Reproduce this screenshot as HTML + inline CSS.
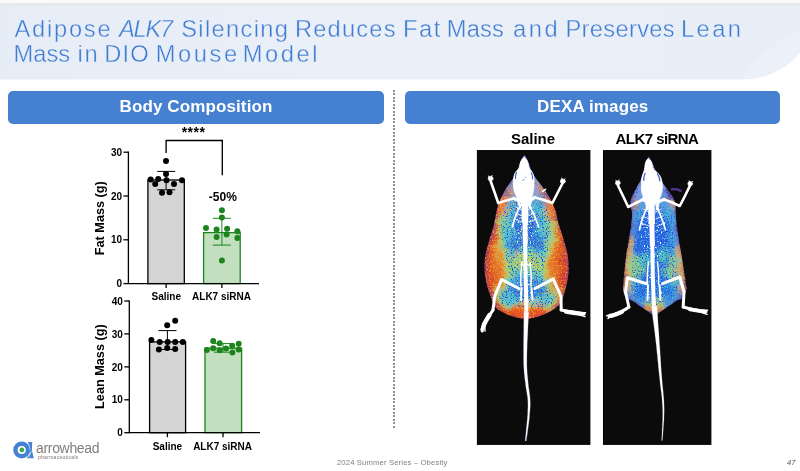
<!DOCTYPE html>
<html lang="en">
<head>
<meta charset="utf-8">
<title>Adipose ALK7 Silencing Reduces Fat Mass and Preserves Lean Mass in DIO Mouse Model</title>
<style>
html,body{margin:0;padding:0;}
body{width:800px;height:471px;position:relative;overflow:hidden;background:#fff;font-family:"Liberation Sans",sans-serif;}
.abs{position:absolute;}
#topstrip{left:0;top:0;width:800px;height:5px;background:linear-gradient(#fafafa 0,#fafafa 40%,#e4e4e4 90%,#e6ebf2 100%);}
#band{left:0;top:5px;width:800px;height:76px;}

.hdr{top:91px;height:32.5px;background:#4680d0;border-radius:5px;color:#fff;font-weight:bold;font-size:17px;text-align:center;line-height:31px;letter-spacing:0.12px;}
#h1{left:8px;width:376px;}
#h2{left:405px;width:375.4px;}
#dots{left:393.3px;top:90px;width:1.5px;height:339px;background:repeating-linear-gradient(#968e8e 0,#968e8e 1.7px,transparent 1.7px,transparent 3.5px);}
.ilab{top:128.8px;font-weight:bold;font-size:15px;color:#000;text-align:center;white-space:nowrap;line-height:20px;}
#foot{left:300px;width:184.5px;top:457.8px;text-align:center;font-size:7.6px;color:#7f7f7f;line-height:10px;letter-spacing:0.18px;white-space:nowrap;}
#pg{left:779.5px;width:16px;top:457.9px;text-align:right;font-size:7.6px;font-style:italic;color:#555;line-height:10px;}
#logotxt{left:36px;top:440px;font-size:14px;color:#837d7b;line-height:16px;letter-spacing:-0.32px;white-space:nowrap;}
#logosub{left:38px;top:454.2px;font-size:5px;color:#7a7472;line-height:6px;letter-spacing:0.28px;white-space:nowrap;}
svg text{font-family:"Liberation Sans",sans-serif;}
</style>
</head>
<body>
<div id="topstrip" class="abs"></div>
<svg id="band" class="abs" width="800" height="76" viewBox="0 5 800 76">
  <defs>
    <linearGradient id="bg1" x1="0" y1="0" x2="1" y2="0">
      <stop offset="0" stop-color="#e7edf7"/><stop offset="0.5" stop-color="#eaeff8"/><stop offset="1" stop-color="#e8eef6"/>
    </linearGradient>
  </defs>
  <path d="M0 5 H800 V52 C 790 65.5 770 79.4 740 79.4 H0 Z" fill="url(#bg1)"/>
  <path d="M800 30 C 770 45 750 62 742 79.4 C 770 79.4 790 65.5 800 52 Z" fill="#ecf0f8"/>
</svg>
<svg id="title" class="abs" style="left:0;top:0" width="800" height="80" viewBox="0 0 800 80"><g fill="#3f7dd3" font-size="23.7" stroke="#e9eef7" stroke-width="0.38"><text y="36.7"><tspan x="14.50" letter-spacing="1.750">Adipose</tspan> <tspan x="119.00" letter-spacing="-1.250" font-style="italic">ALK7</tspan> <tspan x="181.25" letter-spacing="1.312">Silencing</tspan> <tspan x="295.00" letter-spacing="1.167">Reduces</tspan> <tspan x="403.00" letter-spacing="1.500">Fat</tspan> <tspan x="446.75" letter-spacing="0.167">Mass</tspan> <tspan x="512.90" letter-spacing="2.600">and</tspan> <tspan x="565.50" letter-spacing="0.312">Preserves</tspan> <tspan x="681.00" letter-spacing="2.417">Lean</tspan></text>
<text y="61.8"><tspan x="13.50" letter-spacing="0.000">Mass</tspan> <tspan x="77.50" letter-spacing="1.750">in</tspan> <tspan x="104.25" letter-spacing="1.125">DIO</tspan> <tspan x="155.68" letter-spacing="2.600">Mouse</tspan> <tspan x="242.68" letter-spacing="2.600">Model</tspan></text>
</g></svg>

<div id="h1" class="abs hdr">Body Composition</div>
<div id="h2" class="abs hdr">DEXA images</div>
<div id="dots" class="abs"></div>

<div class="abs ilab" style="left:483px;width:100px;">Saline</div>
<div class="abs ilab" style="left:607px;width:100px;letter-spacing:-0.55px;">ALK7 siRNA</div>

<!-- CHARTS -->
<svg id="charts" class="abs" style="left:0;top:0.4px" width="400" height="471" viewBox="0 0 400 471">
<g stroke="#000" stroke-width="1.3" fill="none">
<rect x="147.9" y="180" width="36.4" height="103.6" fill="#d4d4d4"/>
</g>
<rect x="203.6" y="232.6" width="36.6" height="51.0" fill="#c2e0bf" stroke="#1d841d" stroke-width="1.3"/>
<g stroke="#000" stroke-width="1.3" fill="none">
<path d="M128.4 151.4 V283.6 M127.80000000000001 283.6 H259"/>
<path d="M123.4 283.6 H128.4"/>
<path d="M123.4 239.8 H128.4"/>
<path d="M123.4 196.0 H128.4"/>
<path d="M123.4 152.2 H128.4"/>
<path d="M166.1 283.6 V288.1"/>
<path d="M221.9 283.6 V288.1"/>
<path d="M166.1 153 V140.5 H222.3 V175.3" stroke-width="1.35"/>
<path d="M166.1 171.4 V189.8 M157.2 171.4 H175.2 M157.2 189.8 H175.2" stroke-width="1"/>
</g>
<path d="M221.9 218.3 V245.1 M212.8 218.3 H230.9 M212.8 245.1 H230.9" stroke="#1d841d" stroke-width="1" fill="none"/>
<circle cx="166" cy="160.9" r="3" fill="#000"/><circle cx="166" cy="173.9" r="3" fill="#000"/><circle cx="150.7" cy="179.6" r="3" fill="#000"/><circle cx="158.2" cy="179.1" r="3" fill="#000"/><circle cx="166.5" cy="180.2" r="3" fill="#000"/><circle cx="182" cy="180.2" r="3" fill="#000"/><circle cx="155.2" cy="183.9" r="3" fill="#000"/><circle cx="174" cy="183.9" r="3" fill="#000"/><circle cx="162" cy="192.7" r="3" fill="#000"/><circle cx="169.5" cy="192.2" r="3" fill="#000"/>
<circle cx="221.9" cy="210.3" r="3" fill="#1d841d"/><circle cx="221.9" cy="217.6" r="3" fill="#1d841d"/><circle cx="206" cy="228" r="3" fill="#1d841d"/><circle cx="216.6" cy="229.5" r="3" fill="#1d841d"/><circle cx="227.1" cy="228.8" r="3" fill="#1d841d"/><circle cx="237.4" cy="231.3" r="3" fill="#1d841d"/><circle cx="216.6" cy="237" r="3" fill="#1d841d"/><circle cx="226.6" cy="234.6" r="3" fill="#1d841d"/><circle cx="237.4" cy="238" r="3" fill="#1d841d"/><circle cx="221.9" cy="260.6" r="3" fill="#1d841d"/>
<g font-weight="bold" font-size="10" fill="#000" text-anchor="end">
<text x="122.0" y="287.2">0</text>
<text x="122.0" y="243.4">10</text>
<text x="122.0" y="199.6">20</text>
<text x="122.0" y="155.8">30</text>
</g>
<g font-weight="bold" font-size="10" fill="#000" text-anchor="middle">
<text x="166.3" y="300.3">Saline</text><text x="221.5" y="300.3">ALK7 siRNA</text>
<text x="193.5" y="136.7" font-size="14" letter-spacing="0.45">****</text>
<text x="222.8" y="200.7" font-size="12">-50%</text>
<text transform="translate(104.4 218.2) rotate(-90)" font-size="12.7">Fat Mass (g)</text>
</g>
<rect x="149.6" y="341.9" width="36" height="90.8" fill="#d4d4d4" stroke="#000" stroke-width="1.3"/>
<rect x="205" y="348.2" width="36.6" height="84.5" fill="#c2e0bf" stroke="#1d841d" stroke-width="1.3"/>
<g stroke="#000" stroke-width="1.3" fill="none">
<path d="M129.3 300.4 V432.7 M128.70000000000002 432.7 H260"/>
<path d="M124.30000000000001 432.7 H129.3"/>
<path d="M124.30000000000001 399.8 H129.3"/>
<path d="M124.30000000000001 366.9 H129.3"/>
<path d="M124.30000000000001 333.9 H129.3"/>
<path d="M124.30000000000001 301.0 H129.3"/>
<path d="M167.4 432.7 V437.2"/>
<path d="M223 432.7 V437.2"/>
<path d="M167.4 330.6 V349.5 M158.4 330.6 H176.5 M158.4 349.5 H176.5" stroke-width="1"/>
</g>
<path d="M223 343.6 V352.2 M214 343.6 H232 M214 352.2 H232" stroke="#1d841d" stroke-width="1" fill="none"/>
<circle cx="175.2" cy="320.8" r="3" fill="#000"/><circle cx="167.2" cy="325.3" r="3" fill="#000"/><circle cx="151.4" cy="340.1" r="3" fill="#000"/><circle cx="159.7" cy="342.1" r="3" fill="#000"/><circle cx="167.7" cy="342.1" r="3" fill="#000"/><circle cx="175.2" cy="342.1" r="3" fill="#000"/><circle cx="182.8" cy="342.1" r="3" fill="#000"/><circle cx="158.9" cy="349.6" r="3" fill="#000"/><circle cx="167.2" cy="348.1" r="3" fill="#000"/><circle cx="175.2" cy="348.9" r="3" fill="#000"/>
<circle cx="213.2" cy="340.9" r="3" fill="#1d841d"/><circle cx="219.6" cy="343.2" r="3" fill="#1d841d"/><circle cx="232.2" cy="345.8" r="3" fill="#1d841d"/><circle cx="238.7" cy="343.8" r="3" fill="#1d841d"/><circle cx="206.9" cy="350" r="3" fill="#1d841d"/><circle cx="213.2" cy="348.2" r="3" fill="#1d841d"/><circle cx="219.6" cy="350.2" r="3" fill="#1d841d"/><circle cx="226" cy="348.5" r="3" fill="#1d841d"/><circle cx="232.4" cy="352.6" r="3" fill="#1d841d"/><circle cx="238.7" cy="349.6" r="3" fill="#1d841d"/>
<g font-weight="bold" font-size="10" fill="#000" text-anchor="end">
<text x="122.9" y="436.3">0</text>
<text x="122.9" y="403.4">10</text>
<text x="122.9" y="370.5">20</text>
<text x="122.9" y="337.5">30</text>
<text x="122.9" y="304.6">40</text>
</g>
<g font-weight="bold" font-size="10" fill="#000" text-anchor="middle">
<text x="167.4" y="449.8">Saline</text><text x="222.6" y="449.8">ALK7 siRNA</text>
<text transform="translate(104.4 366.6) rotate(-90)" font-size="12.7">Lean Mass (g)</text>
</g>
</svg>

<!-- DEXA -->
<svg id="dexa" class="abs" style="left:400px;top:0" width="400" height="471" viewBox="400 0 400 471">
<defs>
<filter id="blur4" x="-20%" y="-20%" width="140%" height="140%"><feGaussianBlur stdDeviation="2.6"/></filter>
<filter id="blur2" x="-20%" y="-20%" width="140%" height="140%"><feGaussianBlur stdDeviation="2.2"/></filter>
<filter id="grain" x="-5%" y="-5%" width="110%" height="110%">
  <feTurbulence type="fractalNoise" baseFrequency="0.09" numOctaves="2" seed="3" result="n0"/>
  <feDisplacementMap in="SourceGraphic" in2="n0" scale="14" xChannelSelector="R" yChannelSelector="G" result="d0"/>
  <feTurbulence type="fractalNoise" baseFrequency="0.6" numOctaves="2" seed="7" result="n"/>
  <feDisplacementMap in="d0" in2="n" scale="10" xChannelSelector="R" yChannelSelector="G"/>
</filter>
<filter id="grainF" x="-5%" y="-5%" width="110%" height="110%">
  <feGaussianBlur stdDeviation="1.2" result="b"/>
  <feTurbulence type="fractalNoise" baseFrequency="0.6" numOctaves="2" seed="9" result="n"/>
  <feDisplacementMap in="b" in2="n" scale="6" xChannelSelector="R" yChannelSelector="G"/>
</filter>
<filter id="speck" x="0" y="0" width="100%" height="100%" color-interpolation-filters="sRGB">
  <feTurbulence type="fractalNoise" baseFrequency="0.7" numOctaves="1" seed="11" result="t"/>
  <feColorMatrix in="t" type="matrix" values="0 0 0 0 1  0 0 0 0 1  0 0 0 0 1  0 0 0 9 -5.5" result="m"/>
  <feComposite in="m" in2="SourceAlpha" operator="in"/>
</filter>
<filter id="speckC" x="0" y="0" width="100%" height="100%" color-interpolation-filters="sRGB">
  <feTurbulence type="fractalNoise" baseFrequency="0.8" numOctaves="1" seed="23" result="t"/>
  <feColorMatrix in="t" type="matrix" values="0 0 0 0 0.25  0 0 0 0 0.78  0 0 0 0 0.85  0 0 0 6 -3.4" result="m"/>
  <feComposite in="m" in2="SourceAlpha" operator="in"/>
</filter>
<filter id="speckY" x="0" y="0" width="100%" height="100%" color-interpolation-filters="sRGB">
  <feTurbulence type="fractalNoise" baseFrequency="0.75" numOctaves="1" seed="41" result="t"/>
  <feColorMatrix in="t" type="matrix" values="0 0 0 0 0.95  0 0 0 0 0.72  0 0 0 0 0.2  0 0 0 5 -2.75" result="m"/>
  <feComposite in="m" in2="SourceAlpha" operator="in"/>
</filter>
<filter id="speckB" x="0" y="0" width="100%" height="100%" color-interpolation-filters="sRGB">
  <feTurbulence type="fractalNoise" baseFrequency="0.8" numOctaves="1" seed="5" result="t"/>
  <feColorMatrix in="t" type="matrix" values="0 0 0 0 0.12  0 0 0 0 0.3  0 0 0 0 0.85  0 0 0 7 -3.9" result="m"/>
  <feComposite in="m" in2="SourceAlpha" operator="in"/>
</filter>
<filter id="bone" x="-10%" y="-10%" width="120%" height="120%">
  <feGaussianBlur stdDeviation="0.35"/>
</filter>
<radialGradient id="spk"><stop offset="0" stop-color="#000" stop-opacity="1"/><stop offset="0.6" stop-color="#000" stop-opacity="0.8"/><stop offset="1" stop-color="#000" stop-opacity="0"/></radialGradient>
</defs>
<rect x="477.4" y="150.6" width="112.5" height="293.75" fill="#0b0b0b" stroke="#000" stroke-width="1"/>
<clipPath id="cbS"><path d="M524.4 155 C527 158 529.5 165 531.5 171 C534 177 539 182 544 189 C549 196 553 203 555.5 211 C557 217 558 222 559.5 227 C561.5 233 563.5 239 565.2 245 C567.4 252 568.8 259 568.8 266 C568.8 276 566.5 287 563.5 296 C562 302 559.5 305 556 308 C548 313 537 318.8 525.5 318.8 C514 318.8 503 313 496 308 C493.5 305 492 301 490.4 296.4 C487 287 484.4 276 484.4 266 C484.4 259 485.6 252 487.8 245 C489.5 239 491.5 233 493.4 227 C494.6 222 495.5 217 496.5 211 C498 203 502 195 506.5 188 C510.5 182 515 177 517.5 171 C519.5 165 521.5 158 524.4 155 Z"/></clipPath>
<g clip-path="url(#cbS)">
<g filter="url(#grainF)"><path d="M524.4 155 C527 158 529.5 165 531.5 171 C534 177 539 182 544 189 C549 196 553 203 555.5 211 C557 217 558 222 559.5 227 C561.5 233 563.5 239 565.2 245 C567.4 252 568.8 259 568.8 266 C568.8 276 566.5 287 563.5 296 C562 302 559.5 305 556 308 C548 313 537 318.8 525.5 318.8 C514 318.8 503 313 496 308 C493.5 305 492 301 490.4 296.4 C487 287 484.4 276 484.4 266 C484.4 259 485.6 252 487.8 245 C489.5 239 491.5 233 493.4 227 C494.6 222 495.5 217 496.5 211 C498 203 502 195 506.5 188 C510.5 182 515 177 517.5 171 C519.5 165 521.5 158 524.4 155 Z" fill="#d84a20" stroke="#6a2a98" stroke-width="1.5"/><path d="M524.4 150 L505 180 L498 197 L552 197 L545 180 Z" fill="#5a58c0" stroke="#4a2a90" stroke-width="1"/><path d="M524.4 162 L512 184 L508 199 L542 199 L538 184 Z" fill="#9ab0ec"/></g>
<g filter="url(#grain)"><g filter="url(#blur4)">
<path d="M524.4 155 C527 158 529.5 165 531.5 171 C534 177 539 182 544 189 C549 196 553 203 555.5 211 C557 217 558 222 559.5 227 C561.5 233 563.5 239 565.2 245 C567.4 252 568.8 259 568.8 266 C568.8 276 566.5 287 563.5 296 C562 302 559.5 305 556 308 C548 313 537 318.8 525.5 318.8 C514 318.8 503 313 496 308 C493.5 305 492 301 490.4 296.4 C487 287 484.4 276 484.4 266 C484.4 259 485.6 252 487.8 245 C489.5 239 491.5 233 493.4 227 C494.6 222 495.5 217 496.5 211 C498 203 502 195 506.5 188 C510.5 182 515 177 517.5 171 C519.5 165 521.5 158 524.4 155 Z" fill="#d8441e" stroke="#5a2a98" stroke-width="1.6"/>
<ellipse cx="526" cy="262" rx="34" ry="56" fill="#e4702a"/>
<ellipse cx="526" cy="222" rx="29" ry="26" fill="#e89a3c"/>
<path d="M505 203 C516 200 534 200 545 203 C549 210 551 220 551 230 C550.5 240 548 250 545.5 260 C543.5 268 542 274 543 279 C546 284 552 290 556 297 C555 302 551 305 547 306 C535 308 517 308 506 306 C502 305 499 302 499 297 C502 290 507 284 509.5 279 C510 274 508.5 268 506.5 260 C504 250 501.5 240 501 230 C501 220 502 210 505 203 Z" fill="#d8d040" stroke="#d8d040" stroke-width="8" stroke-linejoin="round"/>
<path d="M505 203 C516 200 534 200 545 203 C549 210 551 220 551 230 C550.5 240 548 250 545.5 260 C543.5 268 542 274 543 279 C546 284 552 290 556 297 C555 302 551 305 547 306 C535 308 517 308 506 306 C502 305 499 302 499 297 C502 290 507 284 509.5 279 C510 274 508.5 268 506.5 260 C504 250 501.5 240 501 230 C501 220 502 210 505 203 Z" fill="#7cd498" stroke="#7cd498" stroke-width="3" stroke-linejoin="round"/>
<path d="M505 203 C516 200 534 200 545 203 C549 210 551 220 551 230 C550.5 240 548 250 545.5 260 C543.5 268 542 274 543 279 C546 284 552 290 556 297 C555 302 551 305 547 306 C535 308 517 308 506 306 C502 305 499 302 499 297 C502 290 507 284 509.5 279 C510 274 508.5 268 506.5 260 C504 250 501.5 240 501 230 C501 220 502 210 505 203 Z" fill="#4cc6dc" transform="translate(526 255) scale(0.86 0.95) translate(-526 -255)"/>
<ellipse cx="525" cy="226" rx="11.5" ry="21" fill="#2a6ee4"/>
<ellipse cx="514" cy="246" rx="6" ry="10" fill="#2a74e4"/>
<ellipse cx="537.5" cy="243" rx="6" ry="10" fill="#2a74e4"/>
<ellipse cx="526" cy="266" rx="17" ry="14" fill="#9cd870"/>
<ellipse cx="519" cy="258" rx="6" ry="6" fill="#d4d850"/>
<ellipse cx="536" cy="262" rx="6" ry="5" fill="#c8d858"/>
<ellipse cx="532" cy="274" rx="6" ry="5" fill="#58ccc0"/>
<ellipse cx="517" cy="272" rx="5" ry="5" fill="#58c4d0"/>
<ellipse cx="526.5" cy="291" rx="22" ry="8" fill="#2e82e0"/>
<ellipse cx="526.5" cy="282" rx="9" ry="8" fill="#3a90e4"/>
<ellipse cx="526" cy="312" rx="28" ry="6.5" fill="#e8501c"/>
<ellipse cx="526" cy="304.5" rx="12" ry="3" fill="#e8c848"/>
<path d="M524.4 148 L511 174 L500 193 L506 199 L544 199 L550 193 L538 174 Z" fill="#3a3498"/>
<ellipse cx="524" cy="190" rx="15" ry="20" fill="#7f9ee8"/>
<ellipse cx="524" cy="200" rx="22" ry="7" fill="#5a9ae0"/>
<ellipse cx="524" cy="165" rx="5.5" ry="9" fill="#8a68b8"/>
<ellipse cx="502" cy="207" rx="6" ry="9" fill="#ee7c30"/>
<ellipse cx="550" cy="206" rx="6.5" ry="10" fill="#ee7c30"/>
<ellipse cx="509.5" cy="192" rx="3" ry="4.5" fill="#e09858"/>
<ellipse cx="541" cy="190" rx="3.5" ry="5" fill="#e09858"/>
</g></g>
<path d="M524.4 155 C527 158 529.5 165 531.5 171 C534 177 539 182 544 189 C549 196 553 203 555.5 211 C557 217 558 222 559.5 227 C561.5 233 563.5 239 565.2 245 C567.4 252 568.8 259 568.8 266 C568.8 276 566.5 287 563.5 296 C562 302 559.5 305 556 308 C548 313 537 318.8 525.5 318.8 C514 318.8 503 313 496 308 C493.5 305 492 301 490.4 296.4 C487 287 484.4 276 484.4 266 C484.4 259 485.6 252 487.8 245 C489.5 239 491.5 233 493.4 227 C494.6 222 495.5 217 496.5 211 C498 203 502 195 506.5 188 C510.5 182 515 177 517.5 171 C519.5 165 521.5 158 524.4 155 Z" fill="#fff" filter="url(#speckY)"/>
<path d="M505 203 C516 200 534 200 545 203 C549 210 551 220 551 230 C550.5 240 548 250 545.5 260 C543.5 268 542 274 543 279 C546 284 552 290 556 297 C555 302 551 305 547 306 C535 308 517 308 506 306 C502 305 499 302 499 297 C502 290 507 284 509.5 279 C510 274 508.5 268 506.5 260 C504 250 501.5 240 501 230 C501 220 502 210 505 203 Z" fill="#fff" filter="url(#speckC)"/>
<path d="M505 203 C516 200 534 200 545 203 C549 210 551 220 551 230 C550.5 240 548 250 545.5 260 C543.5 268 542 274 543 279 C546 284 552 290 556 297 C555 302 551 305 547 306 C535 308 517 308 506 306 C502 305 499 302 499 297 C502 290 507 284 509.5 279 C510 274 508.5 268 506.5 260 C504 250 501.5 240 501 230 C501 220 502 210 505 203 Z" fill="#fff" filter="url(#speckB)"/>
<ellipse cx="525" cy="226" rx="12" ry="24" fill="#fff" filter="url(#speck)"/>
<ellipse cx="526" cy="288" rx="9" ry="16" fill="#fff" filter="url(#speck)"/>
</g>
<g fill="none" stroke="#fff" stroke-linecap="round" stroke-linejoin="round" filter="url(#bone)">
<path d="M524.3 157.3 C526.4 158.2 528.3 162 528.8 167 C529.4 169 531 170.4 532.4 172.5 C534 175.5 534.3 180 534 185 C533.8 191 532.8 196 530 200.5 L519 200.5 C515.8 196 513.6 191 513.4 185 C513.2 180 513.6 175.5 515.4 172.5 C517 170.4 518.8 169 519.6 167 C520 162 522 158.2 524.3 157.3 Z" fill="#fff" stroke-width="0.8"/>
<path d="M516.6 172.6 C515.6 174.5 515.3 176.5 515.4 178.5 M531.4 172.8 C532.3 174.5 532.6 176.5 532.5 178.8" stroke="#3458d8" stroke-width="1.1"/>
<path d="M523 180.5 l1.2 -1.4 M525.5 177 l0.6 0.6" stroke="#4a6ae0" stroke-width="0.8"/>
<path d="M524.6 196 C524.8 220 525.2 250 525.6 275 C526 290 526.5 305 526.3 316" stroke-width="4"/>
<path d="M524.7 199 L525 222" stroke-width="6.4" stroke-linecap="butt"/>
<path d="M525 222 L525.3 244" stroke-width="5" stroke-linecap="butt"/>
<path d="M490.6 181 C493 188 496 196 498.2 203 C503 201.5 508 200 514 198.5" stroke-width="2.6"/>
<path d="M562.4 183.5 C559 190 555.5 197 552.4 203 C547 201 541 199 535 197.5" stroke-width="2.6"/>
<ellipse cx="490.6" cy="178.6" rx="2.5" ry="2.3" fill="#fff" stroke-width="0.6"/><path d="M489 176.8 l-0.5 -0.9 M491.6 176.4 l0.4 -0.9" stroke-width="1"/>
<ellipse cx="562.8" cy="181.2" rx="2.5" ry="2.3" fill="#fff" stroke-width="0.6"/><path d="M562 179.2 l-0.3 -1 M564.4 179.6 l0.6 -0.8" stroke-width="1"/>
<path d="M514 198.5 C518 200 521 201.5 524.6 202 C528 201.5 531 199.5 535 197.5" stroke-width="3.4"/>
<path d="M518 200 L520 207 M531 199.5 L529.5 207" stroke-width="2.4"/>
<path d="M542.5 191.5 l3 -2.2" stroke-width="1.6"/>
<path d="M522 203 C518 210 514 218 512.5 227 M528 203 C532 210 536 218 538.5 227" stroke-width="1.7"/>
<path d="M516 207 l6 3 M533 207 l-6 3 M515 213 l7 3 M535 213 l-7 3 M514 219 l8 3 M537 219 l-8 3" stroke-width="1" opacity="0.8"/>
<path d="M522 262 C521 270 520.5 278 521 286 M530 262 C531 270 531.5 278 531 286 M521 265 h10" stroke-width="1.5"/>
<path d="M521.5 288 L521 300 M531.5 288 L532.5 300" stroke-width="2"/>
<path d="M519 288.5 L501.5 279.5 L494.7 296.5 L493 310" stroke-width="3"/>
<path d="M535 288.5 L553.3 278.8 L561 296.5 L561.2 310" stroke-width="3"/>
<path d="M493 310 C490 315 486 320 483.5 324 L482.2 331" stroke-width="3"/><path d="M489.5 315 C487 319 485 322 483.6 326" stroke-width="4.4"/>
<path d="M483.5 324 l-2.6 5.5 M484.6 324.5 l0.4 6.5" stroke-width="1.5"/>
<path d="M561.2 310 C567 311.5 575 312.5 584 314" stroke-width="3.2"/><path d="M566 311.6 C571 312.4 576 313 581 313.8" stroke-width="4.4"/>
<path d="M580 312.5 l5.5 0.2 M580 315 l5 1.6" stroke-width="1.5"/>
</g>
<path d="M523.8 311.9 L523.8 313.3 L523.8 315.1 L523.8 317.3 L523.8 319.7 L523.8 322.2 L523.7 324.9 L523.7 327.5 L523.7 329.9 L523.7 332.4 L523.6 334.8 L523.6 337.4 L523.6 339.9 L523.5 342.5 L523.5 345.1 L523.5 347.6 L523.5 350.0 L523.5 352.3 L523.5 354.6 L523.5 356.9 L523.5 359.2 L523.6 361.4 L523.6 363.6 L523.7 365.9 L523.8 368.1 L524.0 370.3 L524.1 372.5 L524.4 374.7 L524.6 376.8 L524.8 379.0 L525.1 381.1 L525.4 383.1 L525.6 385.2 L525.9 387.2 L526.2 389.1 L526.5 391.0 L526.8 392.8 L527.1 394.7 L527.4 396.5 L527.6 398.3 L527.8 400.1 L527.8 401.9 L527.9 403.8 L527.9 405.6 L527.9 407.5 L527.8 409.3 L527.7 411.2 L527.7 413.1 L527.6 414.9 L527.4 416.8 L527.3 418.7 L527.1 420.7 L526.9 422.6 L526.7 424.6 L526.5 426.4 L526.3 428.2 L526.2 429.9 L526.0 431.5 L525.9 433.2 L525.7 434.8 L525.6 436.4 L525.4 437.8 L525.3 439.0 L525.2 440.1 L525.2 440.9 L526.2 441.1 L526.4 440.2 L526.5 439.2 L526.7 437.9 L526.9 436.5 L527.2 435.0 L527.4 433.4 L527.6 431.7 L527.8 430.1 L528.1 428.4 L528.3 426.6 L528.6 424.8 L528.8 422.9 L529.0 420.9 L529.3 418.9 L529.5 417.0 L529.6 415.1 L529.8 413.2 L529.9 411.3 L530.1 409.4 L530.2 407.5 L530.3 405.6 L530.3 403.7 L530.3 401.8 L530.2 399.9 L530.1 398.0 L529.9 396.1 L529.7 394.3 L529.4 392.4 L529.2 390.6 L528.9 388.7 L528.6 386.8 L528.4 384.8 L528.2 382.8 L528.0 380.8 L527.8 378.7 L527.6 376.5 L527.4 374.4 L527.2 372.2 L527.1 370.1 L527.0 367.9 L526.9 365.8 L526.9 363.6 L526.9 361.4 L526.9 359.2 L526.9 357.0 L527.0 354.7 L527.0 352.4 L527.1 350.0 L527.2 347.6 L527.2 345.1 L527.3 342.6 L527.4 340.1 L527.6 337.5 L527.7 335.0 L527.8 332.5 L527.9 330.1 L528.0 327.6 L528.1 325.0 L528.3 322.4 L528.4 319.8 L528.5 317.4 L528.6 315.3 L528.7 313.4 L528.8 312.1 Z" fill="#fff" stroke="#9a7ac8" stroke-width="0.25" filter="url(#bone)"/>
<rect x="603.5" y="150.6" width="107.4" height="293.75" fill="#0b0b0b" stroke="#000" stroke-width="1"/>
<clipPath id="cbA"><path d="M648.6 156.5 C651.5 160 654 167 656.5 173 C659.5 179 664 185 668 190.5 C671 194.5 674.5 198.5 675.3 204 C675.8 207 675.6 210 675.6 213 C676 219 676.8 226 677.6 232 C678.6 240 680.4 248 681.6 256 C683 265 685.2 278 686.6 288 C686.4 293 684 297.5 680 299.5 L676.4 300.8 C669 306 661 311.5 654.4 316 C648 311.5 640 306 632.3 300.8 L629 299.5 C625 297.5 623 293 623 288 C623.8 278 625 265 626.2 256 C627 248 628.6 240 630 232 C631 226 632 219 632.3 213 C631 208 630 204 630.5 200 C633 193 637 187 640.5 181 C643 175 645.5 163 648.6 156.5 Z"/></clipPath>
<g clip-path="url(#cbA)">
<g filter="url(#grainF)"><path d="M648.6 156.5 C651.5 160 654 167 656.5 173 C659.5 179 664 185 668 190.5 C671 194.5 674.5 198.5 675.3 204 C675.8 207 675.6 210 675.6 213 C676 219 676.8 226 677.6 232 C678.6 240 680.4 248 681.6 256 C683 265 685.2 278 686.6 288 C686.4 293 684 297.5 680 299.5 L676.4 300.8 C669 306 661 311.5 654.4 316 C648 311.5 640 306 632.3 300.8 L629 299.5 C625 297.5 623 293 623 288 C623.8 278 625 265 626.2 256 C627 248 628.6 240 630 232 C631 226 632 219 632.3 213 C631 208 630 204 630.5 200 C633 193 637 187 640.5 181 C643 175 645.5 163 648.6 156.5 Z" fill="#4a7cdc" stroke="#5a2a98" stroke-width="1.4"/><path d="M648.6 162 L638 184 L634 200 L672 200 L666 184 Z" fill="#9ab0ec"/></g>
<g filter="url(#grain)"><g filter="url(#blur2)">
<path d="M648.6 156.5 C651.5 160 654 167 656.5 173 C659.5 179 664 185 668 190.5 C671 194.5 674.5 198.5 675.3 204 C675.8 207 675.6 210 675.6 213 C676 219 676.8 226 677.6 232 C678.6 240 680.4 248 681.6 256 C683 265 685.2 278 686.6 288 C686.4 293 684 297.5 680 299.5 L676.4 300.8 C669 306 661 311.5 654.4 316 C648 311.5 640 306 632.3 300.8 L629 299.5 C625 297.5 623 293 623 288 C623.8 278 625 265 626.2 256 C627 248 628.6 240 630 232 C631 226 632 219 632.3 213 C631 208 630 204 630.5 200 C633 193 637 187 640.5 181 C643 175 645.5 163 648.6 156.5 Z" fill="#5a8ee0" stroke="#4a2a90" stroke-width="1.4"/>
<path d="M629.5 236 C627 255 625 275 625 292" stroke="#e4702c" stroke-width="4.5" fill="none"/>
<path d="M679.5 246 C682 262 684.5 278 685 292" stroke="#e4702c" stroke-width="4" fill="none"/>
<path d="M632 238 C630 256 628.5 275 628.5 292" stroke="#d8d050" stroke-width="2.5" fill="none"/>
<path d="M676.5 248 C679 262 681 278 681.5 292" stroke="#d8d050" stroke-width="2.5" fill="none"/>
<path d="M637 207 C646 204 660 204 671 207 L674 245 L679 285 L675 298 L654 307 L633 298 L630.5 285 L634 245 Z" fill="#4cb4dc"/>
<ellipse cx="653" cy="246" rx="18" ry="46" fill="#2a66e0"/>
<ellipse cx="653" cy="292" rx="22" ry="9" fill="#2e7ade"/>
<ellipse cx="636.5" cy="268" rx="5" ry="13" fill="#8cd488"/>
<ellipse cx="671.5" cy="270" rx="5" ry="12" fill="#8cd488"/>
<ellipse cx="662.5" cy="254" rx="5" ry="7" fill="#5cccb8"/>
<ellipse cx="644" cy="260" rx="4.5" ry="7" fill="#5cccb8"/>
<ellipse cx="654" cy="309" rx="10" ry="5" fill="#e08838"/>
<ellipse cx="654" cy="302.5" rx="9" ry="3" fill="#a0d470"/>
<path d="M648.6 149 L637 176 L629 194 L634 200 L672 200 L676 194 L662 176 Z" fill="#3a3498"/>
<ellipse cx="651" cy="191" rx="14" ry="21" fill="#7f9ee8"/>
<ellipse cx="652" cy="202" rx="19" ry="6" fill="#5a9ae0"/>
<ellipse cx="649" cy="167" rx="5.5" ry="9" fill="#8a68b8"/>
<ellipse cx="635" cy="204" rx="3.5" ry="6" fill="#c89060"/>
<ellipse cx="671.5" cy="203" rx="3.5" ry="6" fill="#c89060"/>
</g></g>
<path d="M637 207 C646 204 660 204 671 207 L674 245 L679 285 L675 298 L654 307 L633 298 L630.5 285 L634 245 Z" fill="#fff" filter="url(#speckC)"/>
<path d="M630 235 L626 292 L634 300 L640 260 Z M678 240 L684 292 L676 300 L668 262 Z" fill="#fff" filter="url(#speckY)"/>
<path d="M637 207 C646 204 660 204 671 207 L674 245 L679 285 L675 298 L654 307 L633 298 L630.5 285 L634 245 Z" fill="#fff" filter="url(#speckB)"/>
<ellipse cx="652.5" cy="232" rx="13" ry="30" fill="#fff" filter="url(#speck)"/>
<ellipse cx="653.5" cy="288" rx="9" ry="16" fill="#fff" filter="url(#speck)"/>
</g>
<path d="M671 189.5 C675 188.5 679 189.5 681.5 191.5" stroke="#5a3aa0" stroke-width="2.6" fill="none" opacity="0.85" filter="url(#bone)"/>
<g fill="none" stroke="#fff" stroke-linecap="round" stroke-linejoin="round" filter="url(#bone)">
<path d="M648.4 158.5 C650.6 159.4 652.3 163 652.8 168 C653.6 170 656.4 171.5 658.6 174 C661.4 177 662.4 182 662.4 187 C662.2 193 660.5 198 657 202.5 L646 202.5 C643 198 641.4 193 641.3 187 C641.3 182 641.6 177 643 174 C644 171.5 644.6 170 644.8 168 C645 163 646.2 159.4 648.4 158.5 Z" fill="#fff" stroke-width="0.8"/>
<path d="M645 173.4 C644 175.5 643.6 178 643.8 180.5 M657.4 173.8 C658.8 175.5 659.6 178 659.8 180.8" stroke="#3458d8" stroke-width="1.2"/>
<path d="M651 198 C651.8 222 652.5 250 652.8 275 C653 290 653.8 300 654.3 310" stroke-width="4"/>
<path d="M651.2 200 L651.8 224" stroke-width="6.4" stroke-linecap="butt"/>
<path d="M651.8 224 L652.4 246" stroke-width="5" stroke-linecap="butt"/>
<path d="M618 185.5 C621 192 625 200 628.2 207 C633 204.5 638 202 643 199.5" stroke-width="2.6"/>
<path d="M689.8 186 C686.5 193 683 200 679.8 206 C675 203.5 670 201.5 664 199.5" stroke-width="2.6"/>
<ellipse cx="617.8" cy="183" rx="2.4" ry="2.2" fill="#fff" stroke-width="0.6"/><path d="M616.4 181.2 l-0.5 -0.9 M618.8 180.9 l0.3 -0.9" stroke-width="1"/>
<ellipse cx="690.2" cy="183.8" rx="2.4" ry="2.2" fill="#fff" stroke-width="0.6"/><path d="M689.4 181.9 l-0.2 -1 M691.8 182.2 l0.6 -0.8" stroke-width="1"/>
<path d="M643 199.5 C646 201 649 203 651 203.5 C655 203 659 201.5 664 199.5" stroke-width="3.4"/>
<path d="M646 201.5 L647.5 209 M658.5 201.5 L657 209" stroke-width="2.4"/>
<path d="M648 205 C645 212 641 220 639.5 230 M656 205 C659 212 663 220 665.5 230" stroke-width="1.7"/>
<path d="M643 209 l6 3 M661 209 l-6 3 M642 216 l7 3 M663 216 l-7 3 M641 223 l8 3 M665 223 l-8 3" stroke-width="1" opacity="0.8"/>
<path d="M648.5 262 C647.5 270 647 278 647.5 284 M657.5 262 C658.5 270 659 278 658.5 284" stroke-width="1.5"/>
<path d="M648 285 L647.5 300 M659.5 285 L660.5 300" stroke-width="2"/>
<path d="M646.5 283.7 L627.4 277.8 L625.5 292 L628.9 307" stroke-width="3"/>
<path d="M662.5 283.7 L679.8 277 L684 292 L683.2 307" stroke-width="3"/>
<path d="M628.9 307 C624 311 616 314 609 316.5" stroke-width="3"/><path d="M622 312 C618 314 614 315.2 611 316" stroke-width="4"/>
<path d="M612 315 l-4 3.6 M611 314.2 l-4.4 1.6" stroke-width="1.4"/>
<path d="M683.2 307 C690 309 698 310.5 706 311.8" stroke-width="3"/><path d="M690 309.4 C695 310.4 700 311 704 311.6" stroke-width="4"/>
<path d="M702.5 310.2 l5 0 M702.5 312.8 l4.6 1.6" stroke-width="1.4"/>
</g>
<path d="M651.3 306.3 L651.4 307.3 L651.6 308.7 L651.8 310.3 L652.1 312.1 L652.3 314.1 L652.6 316.1 L652.8 318.2 L653.1 320.2 L653.4 322.3 L653.7 324.5 L654.0 326.7 L654.3 329.0 L654.6 331.4 L654.9 333.7 L655.1 336.0 L655.4 338.2 L655.7 340.4 L655.9 342.5 L656.2 344.7 L656.4 346.8 L656.6 349.0 L656.8 351.1 L657.0 353.1 L657.3 355.1 L657.5 357.1 L657.6 359.0 L657.8 360.9 L658.0 362.7 L658.2 364.6 L658.3 366.4 L658.5 368.2 L658.7 370.1 L658.9 372.0 L659.1 373.9 L659.3 375.7 L659.5 377.6 L659.7 379.5 L659.9 381.4 L660.1 383.2 L660.3 385.1 L660.5 387.0 L660.8 388.9 L661.0 390.7 L661.3 392.6 L661.5 394.5 L661.7 396.3 L661.9 398.2 L662.1 400.1 L662.2 401.9 L662.3 403.8 L662.4 405.7 L662.5 407.6 L662.6 409.5 L662.6 411.4 L662.6 413.2 L662.7 415.0 L662.6 416.7 L662.6 418.4 L662.6 420.0 L662.5 421.6 L662.4 423.2 L662.3 424.8 L662.3 426.4 L662.2 428.0 L662.1 429.6 L662.0 431.4 L662.0 433.2 L661.9 435.0 L661.8 436.7 L661.7 438.2 L661.6 439.5 L661.6 440.5 L662.4 440.5 L662.5 439.6 L662.6 438.3 L662.7 436.8 L662.9 435.1 L663.0 433.3 L663.1 431.5 L663.3 429.7 L663.4 428.0 L663.5 426.4 L663.6 424.9 L663.7 423.3 L663.9 421.7 L664.0 420.1 L664.0 418.4 L664.1 416.7 L664.1 415.0 L664.2 413.2 L664.2 411.4 L664.2 409.5 L664.2 407.6 L664.1 405.7 L664.1 403.8 L664.0 401.8 L663.9 399.9 L663.8 398.0 L663.6 396.2 L663.4 394.3 L663.3 392.4 L663.1 390.5 L662.9 388.6 L662.7 386.8 L662.5 384.9 L662.3 383.0 L662.2 381.1 L662.0 379.3 L661.9 377.4 L661.7 375.5 L661.6 373.6 L661.4 371.8 L661.3 369.9 L661.2 368.0 L661.0 366.2 L660.9 364.4 L660.8 362.5 L660.7 360.7 L660.6 358.8 L660.5 356.8 L660.3 354.9 L660.2 352.8 L660.1 350.8 L659.9 348.7 L659.8 346.5 L659.6 344.4 L659.5 342.2 L659.3 340.0 L659.2 337.8 L659.0 335.6 L658.9 333.3 L658.7 330.9 L658.5 328.6 L658.3 326.3 L658.2 324.0 L658.0 321.8 L657.9 319.8 L657.8 317.7 L657.7 315.7 L657.6 313.6 L657.5 311.6 L657.4 309.8 L657.4 308.2 L657.3 306.8 L657.3 305.7 Z" fill="#fff" stroke="#9a7ac8" stroke-width="0.2" filter="url(#bone)"/>
</svg>

<!-- LOGO -->
<svg id="logo" class="abs" style="left:10px;top:438px" width="30" height="24" viewBox="10 438 30 24">
<circle cx="21.7" cy="450" r="6.3" fill="none" stroke="#4682d4" stroke-width="4.4"/>
<path d="M27.8 442 H32.2 L31.9 450.5 L33.8 458.2 H26.6 L29.9 454 L29.2 446 Z" fill="#4682d4"/>
<path d="M28.4 443.5 C29.6 445.5 30 448 29.8 450" stroke="#fff" stroke-width="0.6" fill="none" opacity="0.85"/>
<path d="M31.2 451 L28.8 457.2" stroke="#fff" stroke-width="0.7" fill="none" opacity="0.9"/>
<circle cx="21.9" cy="449.9" r="2.4" fill="#3cae49"/>

</svg>
<div id="logotxt" class="abs">arrowhead</div>
<div id="logosub" class="abs">pharmaceuticals</div>

<div id="foot" class="abs">2024 Summer Series – Obesity</div>
<div id="pg" class="abs">47</div>
</body>
</html>
